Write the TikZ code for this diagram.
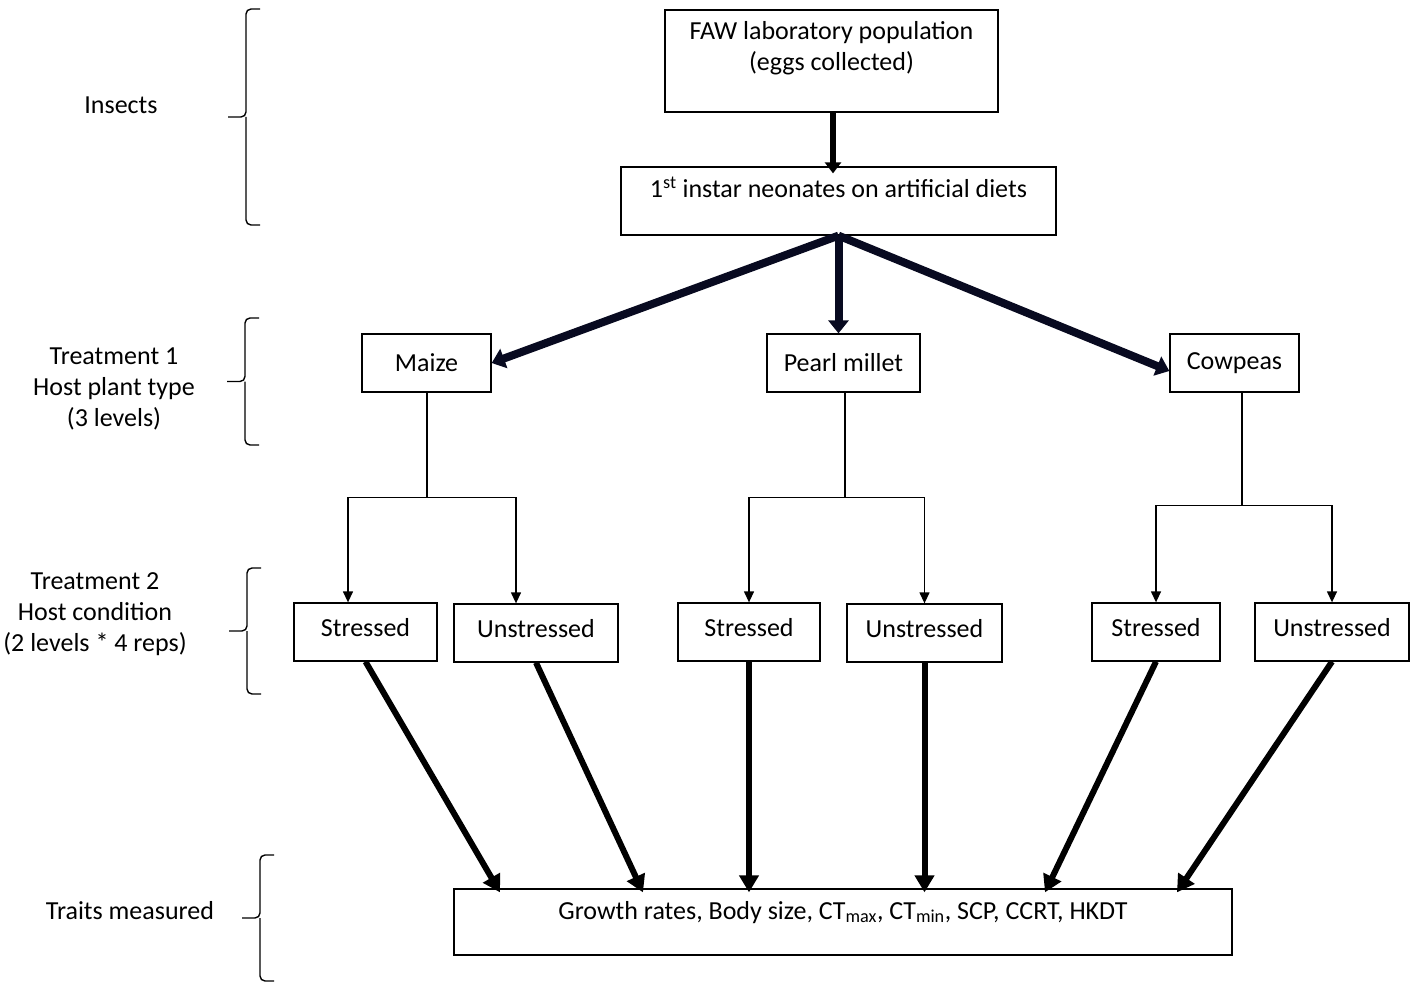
\documentclass[tikz,border=0pt]{standalone}
\usepackage{fontspec}
\setmainfont{Carlito}
\usepackage{xcolor}
\usepackage{tikz}
\usetikzlibrary{arrows.meta,positioning,calc,decorations.pathreplacing}
\definecolor{fawnavy}{RGB}{8,10,32}
% curly bracket: x of the stem, top y, bottom y
\newcommand{\hostbrace}[3]{%
    \draw[line width=1.4pt, rounded corners=5pt] (#1+14,#2) -- (#1,#2) -- (#1,{(#2+#3)/2}) -- (#1-18,{(#2+#3)/2});
    \draw[line width=1.4pt, rounded corners=5pt] (#1,{(#2+#3)/2}) -- (#1,#3) -- (#1+14,#3);}

\begin{document}
\begin{tikzpicture}[x=1pt,y=-1pt,
    box/.style={draw, line width=1.3pt, inner sep=0pt, align=center, font=\fontsize{26}{31}\selectfont},
    lab/.style={align=center, font=\fontsize{26}{31}\selectfont},
    thinarrow/.style={line width=1.3pt, -{Triangle[length=11pt,width=10pt]}},
    toparrow/.style={line width=8pt, draw=fawnavy, fill=fawnavy, -{Triangle[length=13pt,width=20pt]}},
    bigarrow/.style={line width=6pt, -{Triangle[length=17pt,width=19pt]}}]
                \useasboundingbox (0,0) rectangle (1417,987);

                % Insects
                \node[box, minimum width=333pt, minimum height=102pt, text depth=30pt] (faw) at (831.5,61)
                    {FAW laboratory population\\(eggs collected)};
                \node[box, minimum width=435pt, minimum height=68pt, text depth=28pt] (neo) at (838.5,201)
                    {1\textsuperscript{st} instar neonates on artificial diets};
                \draw[line width=6pt, -{Triangle[length=11pt,width=16pt]}] ([xshift=1.5pt]faw.south) -- ([xshift=1.5pt,yshift=-7pt]faw.south |- neo.north);

                % Host plants
                \node[box, minimum width=129pt, minimum height=58pt] (maize) at (426.5,363) {Maize};
                \node[box, minimum width=153pt, minimum height=58pt] (millet) at (843.5,363) {Pearl millet};
                \node[box, minimum width=129pt, minimum height=58pt] (cowpea) at (1234.5,363) {Cowpeas};
                \draw[toparrow] (neo.south) -- (maize.east);
                \draw[toparrow] (neo.south) -- (neo.south |- millet.north);
                \draw[toparrow] (neo.south) -- ([yshift=-8pt]cowpea.west);

                % Host condition
                \node[box, minimum width=143pt, minimum height=58pt, text depth=9pt] (mst) at (365.5,632) {Stressed};
                \node[box, minimum width=164pt, minimum height=58pt, text depth=9pt] (mun) at (536,633) {Unstressed};
                \node[box, minimum width=142pt, minimum height=58pt, text depth=9pt] (pst) at (749,632) {Stressed};
                \node[box, minimum width=155pt, minimum height=58pt, text depth=9pt] (pun) at (924.5,633) {Unstressed};
                \node[box, minimum width=128pt, minimum height=58pt, text depth=9pt] (cst) at (1156,632) {Stressed};
                \node[box, minimum width=154pt, minimum height=58pt, text depth=9pt] (cun) at (1332,632) {Unstressed};

                \draw[line width=1.4pt] ([xshift=0.5pt]maize.south) -- ++(0,105) coordinate (mj);
                \draw[thinarrow] (mj) -| ([xshift=-17.5pt]mst.north);
                \draw[thinarrow] (mj) -| ([xshift=-20pt]mun.north);
                \draw[line width=1.4pt] ([xshift=1.5pt]millet.south) -- ++(0,105) coordinate (pj);
                \draw[thinarrow] (pj) -| (pst.north);
                \draw[thinarrow] (pj) -| (pun.north);
                \draw[line width=1.4pt] ([xshift=7.5pt]cowpea.south) -- ++(0,113) coordinate (cj);
                \draw[thinarrow] (cj) -| (cst.north);
                \draw[thinarrow] (cj) -| (cun.north);

                % Traits
                \node[box, minimum width=778pt, minimum height=66pt, text depth=24pt] (traits) at (843,922)
                    {Growth rates, Body size, CT\textsubscript{max}, CT\textsubscript{min}, SCP, CCRT, HKDT};
                \draw[bigarrow] (mst.south) -- ([xshift=-343pt,yshift=-4pt]traits.north);
                \draw[bigarrow] (mun.south) -- ([xshift=-200pt,yshift=-4pt]traits.north);
                \draw[bigarrow] (pst.south) -- ([yshift=-4pt]traits.north -| pst.south);
                \draw[bigarrow] (pun.south) -- ([yshift=-4pt]traits.north -| pun.south);
                \draw[bigarrow] (cst.south) -- ([xshift=202pt,yshift=-4pt]traits.north);
                \draw[bigarrow] (cun.south) -- ([xshift=334pt,yshift=-4pt]traits.north);

                % Left labels and braces
                \node[lab] (insects) at (121,105) {Insects};
                \node[lab] (treat1) at (114,389) {Treatment 1\\Host plant type\\(3 levels)};
                \node[lab] (treat2) at (95,614) {Treatment 2\\Host condition\\(2 levels * 4 reps)};
                \node[lab] (measured) at (130,911) {Traits measured};
                \hostbrace{246}{9}{225}
                \hostbrace{245}{318}{445}
                \hostbrace{247}{568}{694}
                \hostbrace{260}{855}{981}
            \end{tikzpicture}
\end{document}
